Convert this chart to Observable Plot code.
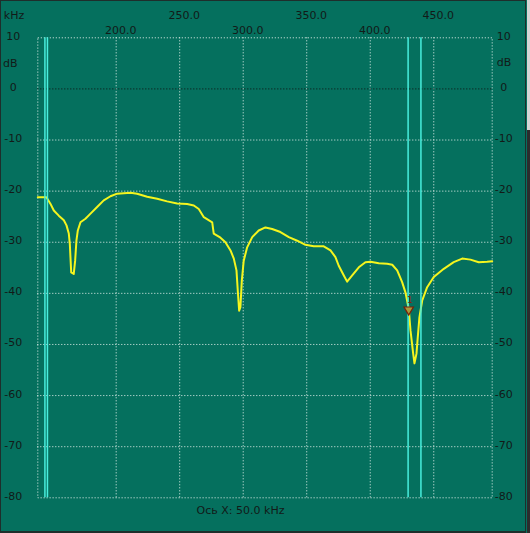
<!DOCTYPE html>
<html>
<head>
<meta charset="utf-8">
<script src="https://cdn.jsdelivr.net/npm/d3@7"></script>
<script src="https://cdn.jsdelivr.net/npm/@observablehq/plot@0.6"></script>
<style>
  html, body { margin: 0; padding: 0; background: #05705e; }
  #wrap { position: relative; width: 530px; height: 533px; overflow: hidden; }
  #wrap svg { position: absolute; left: 0; top: 0; }
  #border { position: absolute; left: 0; top: 0; width: 526px; height: 533px; box-sizing: border-box;
            border-left: 1px solid #1e2e2b; border-top: 1px solid #1e2e2b; border-bottom: 2px solid #1e2e2b; border-right: 1px solid #1e2e2b; pointer-events: none; }
  #stripTop { position: absolute; left: 527px; top: 0; width: 3px; height: 130px; background: #d6d6d6; }
  #stripBot { position: absolute; left: 527px; top: 130px; width: 3px; height: 403px; background: #2c2c2c; }
</style>
</head>
<body>
<div id="wrap"></div>
<script>
// Frequency (kHz) and level (dB)
const freq = [138.3,145.1,148.3,150.9,154.8,158.8,160.9,162.7,163.5,164.0,164.6,166.6,167.7,168.7,169.8,171.9,175.8,179.8,185.0,190.2,195.5,200.8,211.3,216.5,224.4,232.3,240.1,248.0,255.9,261.1,265.0,269.0,275.6,276.8,282.1,286.0,290.0,292.6,294.7,295.7,296.8,297.8,298.9,300.4,303.1,307.1,312.2,317.5,322.8,329.3,335.9,342.5,349.0,355.5,363.4,368.7,372.6,375.2,379.2,381.8,385.8,391.0,396.2,400.2,406.7,413.3,417.3,421.2,425.1,427.7,430.3,431.7,433.8,434.8,436.4,437.4,438.7,440.9,444.8,450.0,457.9,465.7,472.4,478.9,485.4,492.0,496.0];
const level = [-21.2,-21.2,-22.5,-23.8,-24.8,-25.7,-26.7,-28.3,-30.3,-32.9,-35.9,-36.2,-33.6,-29.7,-27.7,-26.1,-25.4,-24.4,-23.1,-21.8,-21.0,-20.5,-20.3,-20.5,-21.1,-21.5,-22.0,-22.4,-22.5,-22.8,-23.5,-25.1,-26.1,-28.3,-29.1,-30.0,-31.6,-33.2,-35.5,-39.4,-43.4,-42.7,-37.5,-33.6,-31.0,-29.0,-27.7,-27.1,-27.4,-28.0,-29.0,-29.7,-30.5,-30.8,-30.8,-31.6,-32.9,-34.6,-36.5,-37.7,-36.5,-34.9,-33.9,-33.8,-34.1,-34.2,-34.4,-35.5,-37.8,-39.8,-43.0,-47.3,-51.8,-53.7,-51.8,-48.6,-44.7,-41.4,-38.8,-36.8,-35.2,-33.9,-33.2,-33.4,-33.9,-33.8,-33.7];

const xTicksUpper = [250, 350, 450];
const xTicksLower = [200, 300, 400];
const xGrid = [200, 250, 300, 350, 400, 450];
const yTicks = [10, 0, -10, -20, -30, -40, -50, -60, -70, -80];
const cursorLines = [143.9, 145.9, 429.8, 439.9];
const markerFreq = [430.3];
const markerLevel = [-43.2];
const xDomain = [138.3, 496];
const yDomain = [-80, 10];
const caption = "Ось X: 50.0 kHz";

const trace = freq.map((f, i) => ({f, v: level[i]}));
const marker = markerFreq.map((f, i) => ({f, v: markerLevel[i]}));

const teal = "#05705e";
const txt = "#121a18";

const chart = Plot.plot({
  width: 530,
  height: 533,
  marginLeft: 37.3,
  marginRight: 38.3,
  marginTop: 37.3,
  marginBottom: 35.7,
  x: {domain: xDomain, axis: null},
  y: {domain: yDomain, axis: null},
  style: {background: teal, fontFamily: "DejaVu Sans", fontSize: "11px", color: txt},
  marks: [
    Plot.ruleX(xGrid, {x: d => d, stroke: "#e6f2ee", strokeDasharray: "1,2", strokeWidth: 1}),
    Plot.ruleY(yTicks.filter(d => d !== 0 && d !== 10 && d !== -80), {y: d => d, stroke: "#e6f2ee", strokeDasharray: "1,2", strokeWidth: 1}),
    Plot.ruleY([0], {y: d => d, stroke: "#101010", strokeDasharray: "1,2", strokeWidth: 1}),
    Plot.frame({stroke: "#e6f2ee", strokeDasharray: "1,2", strokeWidth: 1}),
    Plot.line(trace, {x: "f", y: "v", stroke: "#f5f51e", strokeWidth: 2}),
    Plot.ruleX(cursorLines, {x: d => d, stroke: "#48eedd", strokeWidth: 1.5}),
    Plot.dot(marker, {x: "f", y: "v", symbol: "triangle", rotate: 180, r: 3.5, stroke: "#7a1f08", fill: "#a89a3a", strokeWidth: 1.2}),
    Plot.text(marker, {x: "f", y: "v", text: () => "1", dy: -10, dx: 1, fill: "#7a1f08", fontSize: 9}),
    // top x labels (two staggered rows)
    Plot.text(xTicksUpper, {x: d => d, text: d => d.toFixed(1), frameAnchor: "top", dy: -26.3, dx: 4.5, fill: txt}),
    Plot.text(xTicksLower, {x: d => d, text: d => d.toFixed(1), frameAnchor: "top", dy: -11.6, dx: 4.5, fill: txt}),
    // y labels left and right
    Plot.text(yTicks, {y: d => d, text: d => String(d), frameAnchor: "left", dx: -24.5, dy: -1.5, textAnchor: "middle", fill: txt}),
    Plot.text(yTicks, {y: d => d, text: d => String(d), frameAnchor: "right", dx: 11.5, dy: -1.5, textAnchor: "middle", fill: txt}),
    // unit labels
    Plot.text(["kHz"], {frameAnchor: "top-left", text: d => d, dx: -23.8, dy: -26.3, textAnchor: "middle", fill: txt}),
    Plot.text(["dB"], {frameAnchor: "top-left", text: d => d, dx: -27.5, dy: 21.5, textAnchor: "middle", fill: txt}),
    Plot.text(["dB"], {frameAnchor: "top-right", text: d => d, dx: 11.8, dy: 20, textAnchor: "middle", fill: txt}),
    Plot.text([caption], {frameAnchor: "bottom", text: d => d, dx: -24.5, dy: 16, textAnchor: "middle", fill: txt})
  ]
});

const wrap = document.getElementById("wrap");
wrap.appendChild(chart);
for (const id of ["border", "stripTop", "stripBot"]) {
  const d = document.createElement("div");
  d.id = id;
  wrap.appendChild(d);
}
</script>
</body>
</html>
